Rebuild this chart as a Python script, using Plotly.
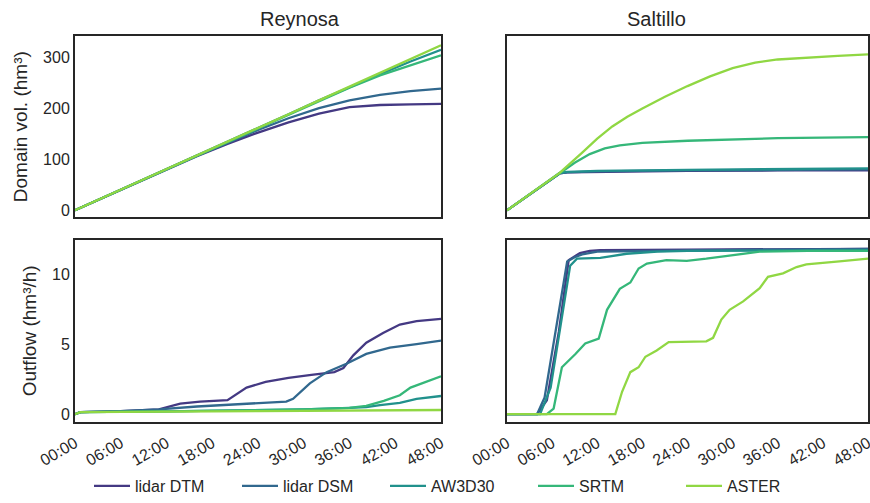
import plotly.graph_objects as go
from plotly.subplots import make_subplots

series_names = ["lidar DTM", "lidar DSM", "AW3D30", "SRTM", "ASTER"]
series_colors = ["#443983", "#31688e", "#21918c", "#35b779", "#90d743"]
tick_hours = [0, 6, 12, 18, 24, 30, 36, 42, 48]
tick_labels = ["00:00", "06:00", "12:00", "18:00", "24:00", "30:00", "36:00", "42:00", "48:00"]

# Reynosa domain volume (hm3)
rey_vol_t = [0, 6, 12, 16, 20, 24, 28, 32, 36, 40, 44, 48]
rey_vol_dtm = [0, 40, 80, 106, 130, 152, 172, 189, 202, 206, 207, 208]
rey_vol_dsm = [0, 40, 80, 107, 132, 157, 180, 200, 215, 226, 233, 238]
rey_vol_aw3d30 = [0, 40, 80, 107, 134, 161, 188, 215, 241, 266, 291, 314]
rey_vol_srtm = [0, 40, 80, 107, 134, 161, 188, 214, 240, 264, 284, 303]
rey_vol_aster = [0, 40, 80, 107, 134, 161, 188, 215, 242, 269, 296, 323]

# Saltillo domain volume (hm3)
sal_vol_t_lidar = [0, 7, 8, 12, 24, 36, 48]
sal_vol_dtm = [0, 72, 74, 75, 77, 78, 78]
sal_vol_dsm = [0, 72, 74, 76, 78, 79, 80]
sal_vol_aw3d30 = [0, 73, 75, 77, 79, 81, 82]
sal_vol_t_srtm = [0, 7, 9, 11, 13, 15, 18, 24, 30, 36, 42, 48]
sal_vol_srtm = [0, 73, 93, 110, 121, 127, 132, 136, 139, 141, 142, 143]
sal_vol_t_aster = [0, 7, 10, 12, 14, 16, 18, 21, 24, 27, 30, 33, 36, 40, 44, 48]
sal_vol_aster = [0, 73, 113, 140, 164, 183, 199, 222, 243, 262, 278, 289, 295, 299, 302, 305]

# Reynosa outflow (hm3/h)
rey_out_t_dtm = [0, 0.7, 6, 11, 13.8, 16.4, 20, 22.5, 25, 28, 31, 34, 35.2, 36.5, 38.2, 40.4, 42.6, 44.8, 48]
rey_out_dtm = [0, 0.15, 0.22, 0.35, 0.75, 0.9, 1.0, 1.9, 2.3, 2.6, 2.8, 3.0, 3.3, 4.2, 5.1, 5.8, 6.4, 6.65, 6.8]
rey_out_t_dsm = [0, 0.7, 6, 11, 16, 21, 27.7, 28.6, 30.8, 33, 35.6, 38.2, 41.3, 44.8, 48]
rey_out_dsm = [0, 0.15, 0.22, 0.35, 0.55, 0.7, 0.9, 1.1, 2.2, 3.0, 3.6, 4.3, 4.75, 5.0, 5.25]
rey_out_t_aw3d30 = [0, 0.7, 12, 24, 30, 36, 38.2, 40, 42.6, 44.8, 48]
rey_out_aw3d30 = [0, 0.15, 0.2, 0.28, 0.35, 0.45, 0.5, 0.65, 0.8, 1.1, 1.3]
rey_out_t_srtm = [0, 0.7, 12, 24, 30, 36, 38.2, 40.5, 42.6, 44.0, 45.5, 48]
rey_out_srtm = [0, 0.15, 0.2, 0.28, 0.35, 0.45, 0.6, 0.95, 1.35, 1.9, 2.2, 2.7]
rey_out_t_aster = [0, 0.7, 24, 48]
rey_out_aster = [0, 0.15, 0.22, 0.3]

# Saltillo outflow (hm3/h)
sal_out_t_dtm = [0, 4, 5.3, 6.9, 8.2, 9.0, 9.7, 11, 12.4, 24, 36, 48]
sal_out_dtm = [0, 0, 1.0, 5.9, 11.0, 11.3, 11.5, 11.65, 11.7, 11.75, 11.8, 11.8]
sal_out_t_dsm = [0, 4, 5.0, 6.6, 8.0, 9.0, 10, 12, 24, 36, 48]
sal_out_dsm = [0, 0, 1.2, 6.5, 10.9, 11.2, 11.4, 11.6, 11.7, 11.75, 11.8]
sal_out_t_aw3d30 = [0, 4.4, 5.8, 7.1, 8.4, 9.3, 12.4, 15.9, 20, 24, 36, 48]
sal_out_aw3d30 = [0, 0, 1.9, 6.2, 10.6, 11.1, 11.15, 11.45, 11.6, 11.65, 11.7, 11.7]
sal_out_t_srtm = [0, 5.3, 6.2, 7.3, 9.1, 10.4, 12.2, 13.3, 15, 16.4, 17.5, 18.6, 21.2, 23.9, 26.5, 31, 33.6, 40, 48]
sal_out_srtm = [0, 0, 0.4, 3.35, 4.3, 5.05, 5.4, 7.45, 8.95, 9.4, 10.4, 10.75, 11.0, 10.95, 11.1, 11.4, 11.6, 11.65, 11.65]
sal_out_t_aster = [0, 14.4, 15.3, 16.4, 17.5, 18.4, 19.9, 21.5, 26.5, 27.4, 28.5, 29.6, 31.4, 33.6, 34.7, 36.7, 38.5, 39.8, 44.2, 48]
sal_out_aster = [0, 0, 1.6, 3.0, 3.35, 4.1, 4.55, 5.15, 5.2, 5.45, 6.75, 7.45, 8.05, 9.0, 9.8, 10.05, 10.5, 10.7, 10.9, 11.1]

panels = [
    (1, 1, [(rey_vol_t, rey_vol_dtm), (rey_vol_t, rey_vol_dsm), (rey_vol_t, rey_vol_aw3d30),
            (rey_vol_t, rey_vol_srtm), (rey_vol_t, rey_vol_aster)]),
    (1, 2, [(sal_vol_t_lidar, sal_vol_dtm), (sal_vol_t_lidar, sal_vol_dsm), (sal_vol_t_lidar, sal_vol_aw3d30),
            (sal_vol_t_srtm, sal_vol_srtm), (sal_vol_t_aster, sal_vol_aster)]),
    (2, 1, [(rey_out_t_dtm, rey_out_dtm), (rey_out_t_dsm, rey_out_dsm), (rey_out_t_aw3d30, rey_out_aw3d30),
            (rey_out_t_srtm, rey_out_srtm), (rey_out_t_aster, rey_out_aster)]),
    (2, 2, [(sal_out_t_dtm, sal_out_dtm), (sal_out_t_dsm, sal_out_dsm), (sal_out_t_aw3d30, sal_out_aw3d30),
            (sal_out_t_srtm, sal_out_srtm), (sal_out_t_aster, sal_out_aster)]),
]

W, H = 870, 503
fig = make_subplots(rows=2, cols=2, shared_yaxes=True)

for (r, c, data) in panels:
    for i, (t, v) in enumerate(data):
        fig.add_trace(go.Scatter(
            x=t, y=v, mode="lines", name=series_names[i],
            legendgroup=series_names[i], showlegend=(r == 1 and c == 1),
            line=dict(color=series_colors[i], width=2.3),
        ), row=r, col=c)

txt = "#262626"
font_family = "Liberation Sans, Arial, sans-serif"
frame = dict(showline=True, linecolor=txt, linewidth=2, mirror=True,
             showgrid=False, zeroline=False, ticks="", automargin=False)

xd1 = [75 / W, 441 / W]
xd2 = [507 / W, 868 / W]
yd_top = [1 - 220 / H, 1 - 37 / H]
yd_bot = [1 - 428 / H, 1 - 243 / H]

fig.update_layout(
    width=W, height=H,
    margin=dict(l=0, r=0, t=0, b=0),
    paper_bgcolor="white", plot_bgcolor="white",
    font=dict(family=font_family, size=16, color=txt),
    showlegend=True,
    legend=dict(orientation="h", x=0.5 + 24 / W, xanchor="center", y=1 - 493 / H, yanchor="middle",
                font=dict(size=16, color=txt), itemwidth=36, entrywidth=97,
                entrywidthmode="pixels", bgcolor="rgba(0,0,0,0)"),
)

for r, c, xd, yd in [(1, 1, xd1, yd_top), (1, 2, xd2, yd_top), (2, 1, xd1, yd_bot), (2, 2, xd2, yd_bot)]:
    fig.update_xaxes(domain=xd, range=[0, 48], tickvals=tick_hours, ticktext=tick_labels,
                     showticklabels=(r == 2), tickangle=-30, tickfont=dict(size=16, color=txt),
                     ticklabeloverflow="allow", ticklabelstandoff=4, row=r, col=c, **frame)
    fig.update_yaxes(domain=yd, tickfont=dict(size=16, color=txt), showticklabels=(c == 1),
                     row=r, col=c, **frame)

fig.update_yaxes(range=[-13, 340], tickvals=[0, 100, 200, 300], row=1, col=1)
fig.update_yaxes(range=[-13, 340], row=1, col=2)
fig.update_yaxes(range=[-0.56, 12.46], tickvals=[0, 5, 10], row=2, col=1)
fig.update_yaxes(range=[-0.56, 12.46], row=2, col=2)
fig.update_yaxes(title=dict(text="Domain vol. (hm³)", font=dict(size=19, color=txt), standoff=10), row=1, col=1)
fig.update_yaxes(title=dict(text="Outflow (hm³/h)", font=dict(size=19, color=txt), standoff=10), row=2, col=1)

fig.add_annotation(text="Reynosa", x=(xd1[0] + xd1[1]) / 2, y=1 - 19 / H, xref="paper", yref="paper",
                   showarrow=False, font=dict(size=20, color=txt), yanchor="middle")
fig.add_annotation(text="Saltillo", x=(xd2[0] + xd2[1]) / 2, y=1 - 19 / H, xref="paper", yref="paper",
                   showarrow=False, font=dict(size=20, color=txt), yanchor="middle")

fig.write_html("out.html", config={"displayModeBar": False},
               post_script="document.body.style.margin='0';document.body.style.overflow='hidden';")
